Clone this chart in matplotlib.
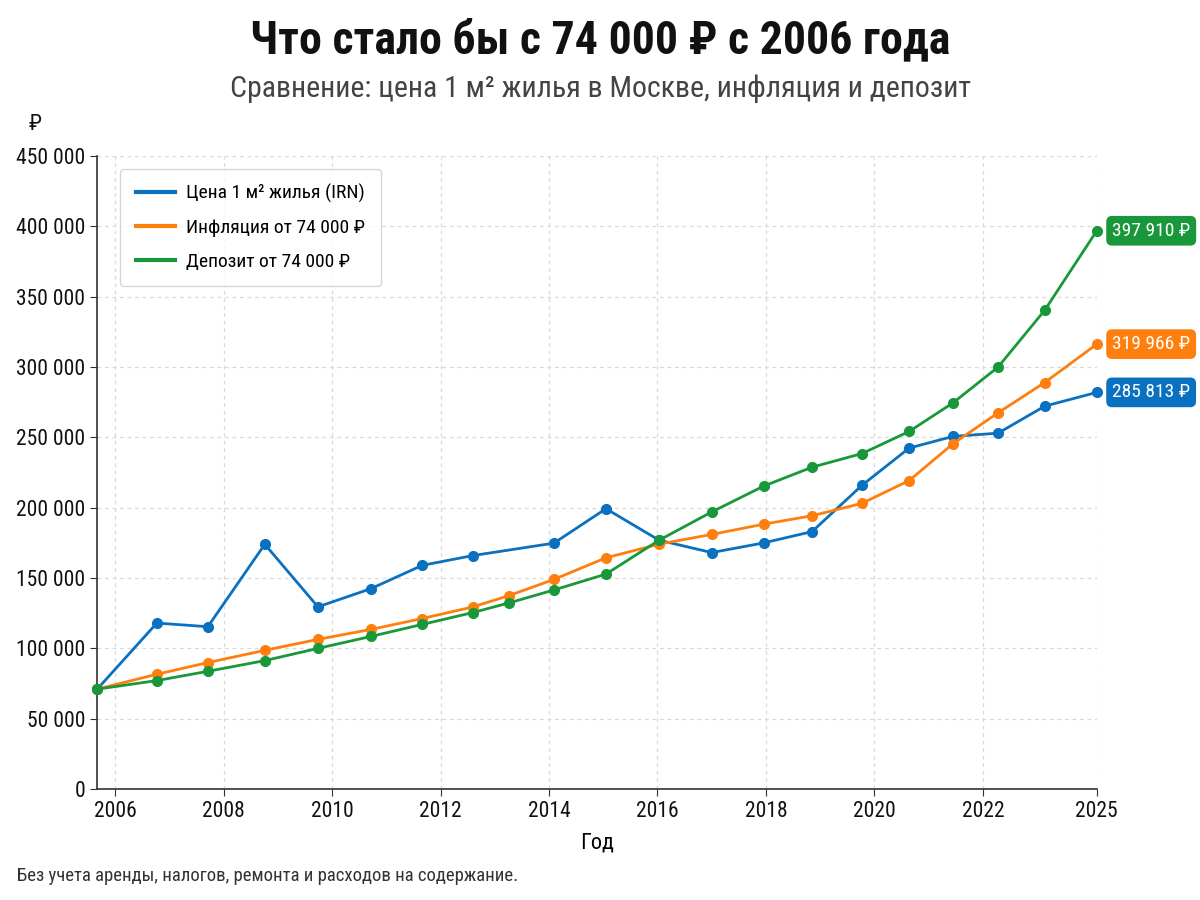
import matplotlib
matplotlib.use("Agg")
import matplotlib.pyplot as plt
from matplotlib.ticker import FuncFormatter

plt.rcParams['font.family'] = ['Roboto Condensed', 'Roboto', 'DejaVu Sans']

# x positions on the year axis (points are not on whole years)
X = [2005.67, 2006.77, 2007.71, 2008.76, 2009.74, 2010.72, 2011.66, 2012.60,
     2013.26, 2014.09, 2015.05, 2016.03, 2017.00, 2017.96, 2018.85, 2019.77,
     2020.64, 2021.45, 2022.28, 2023.14, 2024.10]
# the price series has no point at 2013.26
X_PRICE = X[:8] + X[9:]

PRICE = [71000, 118000, 115400, 174000, 129500, 142500, 159000, 166000,
         174800, 199300, 176900, 168100, 175000, 183000, 215900,
         242400, 250700, 253000, 272200, 282000]
INFLATION = [71000, 81600, 89900, 98600, 106400, 113500, 121200, 129500,
             137500, 149000, 164400, 174100, 181000, 188300, 194300, 203100,
             219300, 245500, 267500, 289000, 316300]
DEPOSIT = [71000, 77100, 83700, 91300, 100000, 108500, 117000, 125500,
           132300, 141500, 152800, 176900, 197000, 215400, 228800, 238500,
           254200, 274600, 300000, 340400, 396900]

NAMES = ["Цена 1 м² жилья (IRN)", "Инфляция от 74 000 ₽", "Депозит от 74 000 ₽"]
END_LABELS = ["285 813 ₽", "319 966 ₽", "397 910 ₽"]
COLORS = ["#0a70c0", "#ff7f0e", "#18983a"]

TICK_YEARS = [2006, 2008, 2010, 2012, 2014, 2016, 2018, 2020, 2022, 2024.10]
TICK_LABELS = ["2006", "2008", "2010", "2012", "2014", "2016", "2018", "2020", "2022", "2025"]

fig = plt.figure(figsize=(12, 9), dpi=100)
ax = fig.add_axes([0.081, 0.1233, 0.833, 0.7033])

series = [(X_PRICE, PRICE), (X, INFLATION), (X, DEPOSIT)]
for (xs, ys), name, col, lab in zip(series, NAMES, COLORS, END_LABELS):
    ax.plot(xs, ys, color=col, lw=2.0, marker='o', ms=7, label=name,
            solid_joinstyle='round', clip_on=False, zorder=3)
    ax.annotate(lab, (xs[-1], ys[-1]), xytext=(11, 0), textcoords='offset points',
                ha='left', va='center', fontsize=14, color='white',
                bbox=dict(boxstyle='round,pad=0.3,rounding_size=0.3', fc=col, ec='none'),
                annotation_clip=False)

ax.set_xlim(2005.67, 2024.10)
ax.set_ylim(0, 450000)
ax.set_xticks(TICK_YEARS)
ax.set_xticklabels(TICK_LABELS)
ax.set_yticks(range(0, 450001, 50000))
ax.yaxis.set_major_formatter(FuncFormatter(lambda v, p: f"{int(v):,}".replace(",", " ")))
ax.tick_params(labelsize=15.5, length=5, color='#333333', labelcolor='#111111')

ax.grid(True, ls=(0, (3, 3)), color='#d9d9d9', lw=0.9)
ax.set_axisbelow(True)
for s in ['top', 'right']:
    ax.spines[s].set_visible(False)
for s in ['left', 'bottom']:
    ax.spines[s].set_color('#333333')
    ax.spines[s].set_linewidth(1.2)

ax.set_xlabel("Год", fontsize=16, labelpad=8)

leg = ax.legend(loc='upper left', bbox_to_anchor=(0.023, 0.98), borderaxespad=0,
                fontsize=14, frameon=True, handlelength=2.0, handletextpad=0.6,
                borderpad=0.8, labelspacing=0.8)
leg.get_frame().set_edgecolor('#cccccc')
for h in leg.get_lines():
    h.set_marker('')
    h.set_linewidth(3)

fig.text(0.5, 0.955, "Что стало бы с 74 000 ₽ с 2006 года", ha='center', va='center',
         fontsize=33, fontweight='bold', color='#111111')
fig.text(0.5, 0.901, "Сравнение: цена 1 м² жилья в Москве, инфляция и депозит", ha='center',
         va='center', fontsize=21.5, color='#444444')
fig.text(0.029, 0.862, "₽", ha='center', va='center', fontsize=16, color='#111111')
fig.text(0.014, 0.027, "Без учета аренды, налогов, ремонта и расходов на содержание.",
         ha='left', va='center', fontsize=13.5, color='#333333')

fig.savefig("out.png", dpi=100, facecolor='white')
